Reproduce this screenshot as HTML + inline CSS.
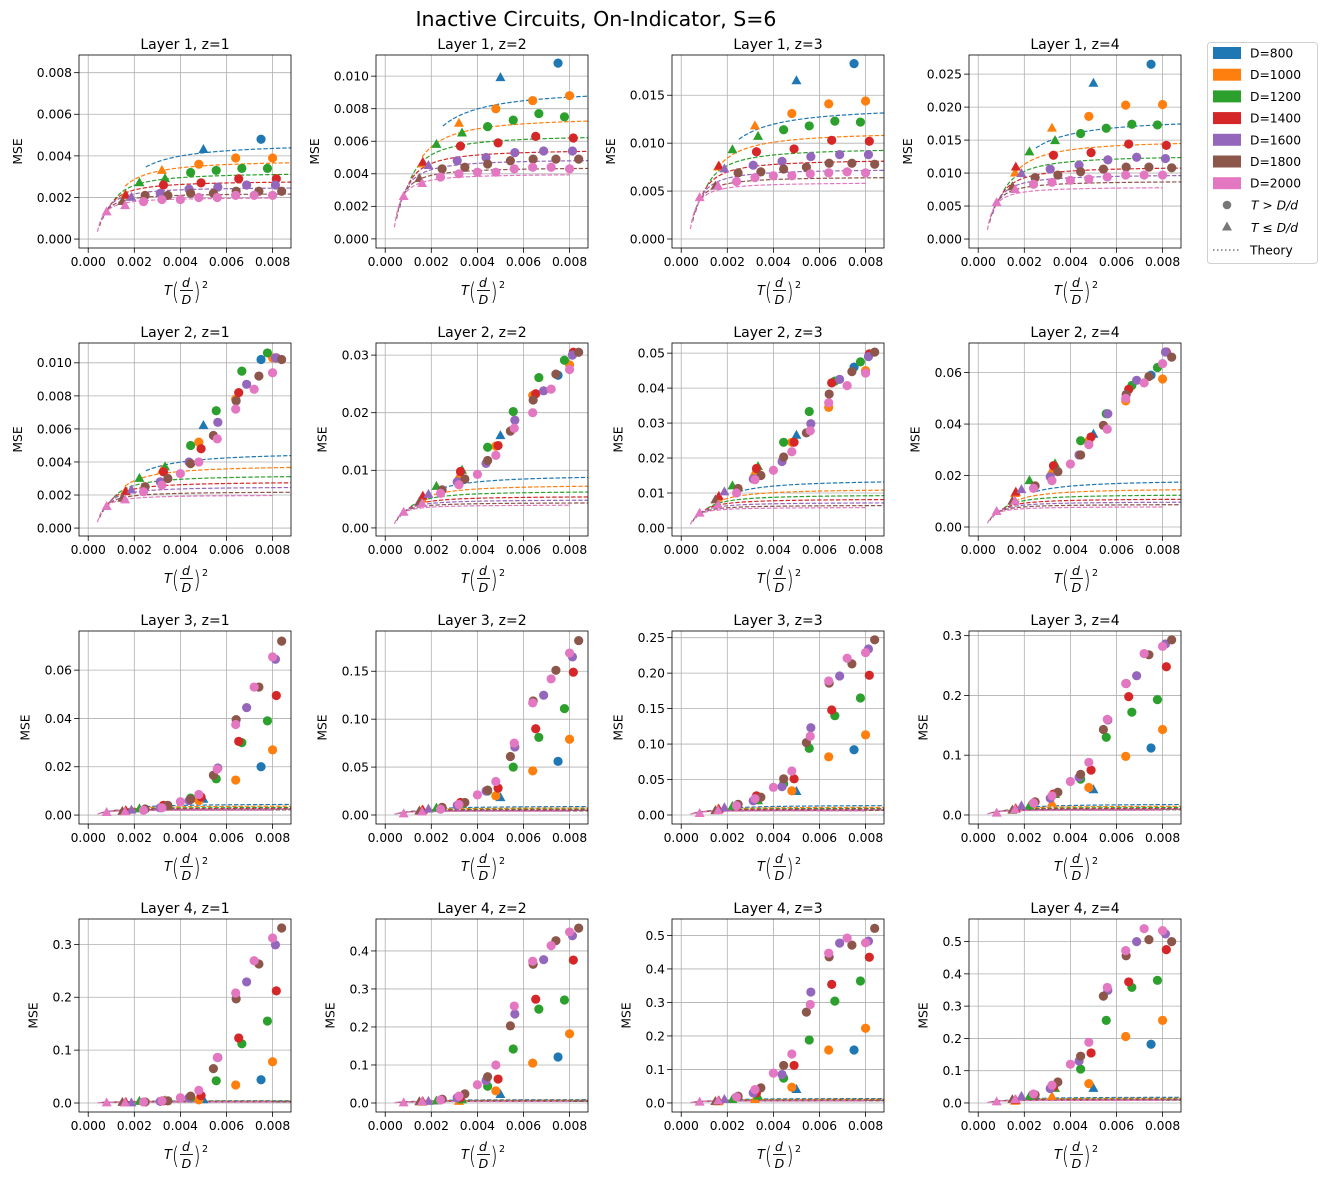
<!DOCTYPE html>
<html><head><meta charset="utf-8"><style>
html,body{margin:0;padding:0;background:#fff;}
svg{display:block;font-family:"DejaVu Sans","Liberation Sans",sans-serif;}
</style></head><body>
<svg id="fig" width="1324" height="1180" viewBox="0 0 1324 1180" xmlns="http://www.w3.org/2000/svg">
<rect x="0" y="0" width="1324" height="1180" fill="#fff"/>
<text x="596" y="26" font-size="20.5" text-anchor="middle" fill="#000">Inactive Circuits, On-Indicator, S=6</text>
</svg>
<script>
// ---------- data ----------
const D_VALUES = [800, 1000, 1200, 1400, 1600, 1800, 2000];
const SERIES_COLORS = ['#1f77b4','#ff7f0e','#2ca02c','#d62728','#9467bd','#8c564b','#e377c2'];
const T_D800 = [200, 300];
const T_D1000 = [100, 200, 300, 400, 500];
const T_D1200 = [200, 300, 400, 500, 600, 700];
const T_D1400 = [200, 400, 600, 800, 1000];
const T_D1600 = [300, 500, 700, 900, 1100, 1300];
const T_D1800 = [300, 500, 700, 900, 1100, 1300, 1500, 1700];
const T_D2000 = [200, 400, 600, 800, 1000, 1200, 1400, 1600, 1800, 2000];
const SMALL_D = 4;
const THEORY_Z1 = [0.0046, 0.0038, 0.0032, 0.0028, 0.0025, 0.0022, 0.0020];
const THEORY_Z2 = [0.0092, 0.0075, 0.0064, 0.0055, 0.0049, 0.0044, 0.0040];
const THEORY_Z3 = [0.0138, 0.0112, 0.0095, 0.0083, 0.0073, 0.0065, 0.0059];
const THEORY_Z4 = [0.0183, 0.0150, 0.0127, 0.0110, 0.0098, 0.0088, 0.0079];
const X_TICKS = [0, 0.002, 0.004, 0.006, 0.008];

const MSE_L1_Z1 = [[0.0043,0.0048],[0.0021,0.0033,0.0036,0.0039,0.0039],[0.0027,0.0029,0.0032,0.0033,0.0034,0.0034],[0.0021,0.0026,0.0027,0.0029,0.0029],[0.0020,0.0022,0.0024,0.0025,0.0026,0.0026],[0.0018,0.0021,0.0021,0.0022,0.0022,0.0023,0.0023,0.0023],[0.0013,0.0016,0.0018,0.0019,0.0019,0.0020,0.0020,0.0021,0.0021,0.0021]];
const MSE_L1_Z2 = [[0.0099,0.0108],[0.0046,0.0071,0.0080,0.0085,0.0088],[0.0058,0.0065,0.0069,0.0073,0.0077,0.0075],[0.0047,0.0057,0.0059,0.0063,0.0062],[0.0045,0.0048,0.0050,0.0053,0.0054,0.0054],[0.0037,0.0043,0.0044,0.0046,0.0048,0.0049,0.0049,0.0049],[0.0026,0.0034,0.0038,0.0040,0.0041,0.0041,0.0043,0.0044,0.0044,0.0043]];
const MSE_L1_Z3 = [[0.0165,0.0183],[0.0075,0.0118,0.0131,0.0141,0.0144],[0.0093,0.0107,0.0114,0.0118,0.0123,0.0122],[0.0076,0.0091,0.0094,0.0103,0.0102],[0.0073,0.0077,0.0081,0.0086,0.0088,0.0088],[0.0055,0.0069,0.0070,0.0073,0.0075,0.0079,0.0079,0.0078],[0.0043,0.0055,0.0060,0.0064,0.0066,0.0066,0.0068,0.0069,0.0070,0.0069]];
const MSE_L1_Z4 = [[0.0236,0.0265],[0.0100,0.0168,0.0186,0.0203,0.0204],[0.0132,0.0149,0.0160,0.0168,0.0174,0.0173],[0.0109,0.0127,0.0131,0.0144,0.0142],[0.0099,0.0106,0.0112,0.0120,0.0124,0.0122],[0.0079,0.0093,0.0097,0.0102,0.0106,0.0109,0.0109,0.0108],[0.0055,0.0075,0.0083,0.0086,0.0089,0.0091,0.0094,0.0097,0.0097,0.0097]];
const MSE_L2_Z1 = [[0.0062,0.0102],[0.0022,0.0035,0.0052,0.0078,0.0103],[0.0030,0.0037,0.0050,0.0071,0.0095,0.0106],[0.0022,0.0034,0.0048,0.0082,0.0103],[0.0023,0.0028,0.0040,0.0064,0.0087,0.0103],[0.0018,0.0025,0.0030,0.0039,0.0056,0.0077,0.0092,0.0102],[0.0013,0.0017,0.0022,0.0026,0.0033,0.0040,0.0054,0.0072,0.0084,0.0094]];
const MSE_L2_Z2 = [[0.0160,0.0265],[0.0050,0.0090,0.0142,0.0230,0.0283],[0.0072,0.0100,0.0140,0.0202,0.0261,0.0291],[0.0055,0.0098,0.0143,0.0233,0.0305],[0.0058,0.0080,0.0112,0.0187,0.0238,0.0300],[0.0045,0.0066,0.0085,0.0117,0.0168,0.0222,0.0267,0.0305],[0.0027,0.0042,0.0060,0.0075,0.0093,0.0126,0.0173,0.0200,0.0241,0.0275]];
const MSE_L2_Z3 = [[0.0265,0.0460],[0.0085,0.0160,0.0245,0.0345,0.0450],[0.0120,0.0175,0.0245,0.0333,0.0420,0.0475],[0.0090,0.0170,0.0245,0.0415,0.0498],[0.0103,0.0140,0.0190,0.0298,0.0425,0.0490],[0.0080,0.0113,0.0150,0.0203,0.0272,0.0383,0.0447,0.0503],[0.0042,0.0065,0.0100,0.0138,0.0165,0.0218,0.0278,0.0358,0.0407,0.0443]];
const MSE_L2_Z4 = [[0.0360,0.0590],[0.0130,0.0220,0.0335,0.0490,0.0575],[0.0180,0.0245,0.0335,0.0440,0.0550,0.0620],[0.0135,0.0238,0.0350,0.0535,0.0680],[0.0145,0.0195,0.0280,0.0440,0.0570,0.0680],[0.0100,0.0160,0.0215,0.0280,0.0395,0.0515,0.0585,0.0660],[0.0060,0.0100,0.0150,0.0180,0.0245,0.0320,0.0380,0.0500,0.0560,0.0635]];
const MSE_L3_Z1 = [[0.0065,0.0200],[0.0015,0.0035,0.0060,0.0145,0.0270],[0.0025,0.0035,0.0070,0.0150,0.0300,0.0390],[0.0018,0.0040,0.0075,0.0305,0.0495],[0.0020,0.0030,0.0060,0.0195,0.0445,0.0645],[0.0015,0.0025,0.0040,0.0065,0.0165,0.0395,0.0530,0.0720],[0.0010,0.0013,0.0020,0.0030,0.0055,0.0085,0.0190,0.0375,0.0530,0.0655]];
const MSE_L3_Z2 = [[0.0180,0.0560],[0.0050,0.0110,0.0200,0.0460,0.0790],[0.0070,0.0110,0.0250,0.0500,0.0810,0.1110],[0.0050,0.0130,0.0280,0.0900,0.1490],[0.0060,0.0100,0.0250,0.0710,0.1250,0.1650],[0.0040,0.0080,0.0130,0.0260,0.0610,0.1190,0.1510,0.1820],[0.0010,0.0030,0.0060,0.0110,0.0210,0.0350,0.0750,0.1170,0.1420,0.1690]];
const MSE_L3_Z3 = [[0.0330,0.0920],[0.0080,0.0200,0.0340,0.0820,0.1130],[0.0120,0.0200,0.0440,0.0940,0.1400,0.1650],[0.0080,0.0270,0.0510,0.1480,0.1970],[0.0100,0.0200,0.0400,0.1230,0.1960,0.2340],[0.0060,0.0150,0.0250,0.0510,0.1020,0.1860,0.2130,0.2470],[0.0020,0.0060,0.0130,0.0230,0.0390,0.0620,0.1110,0.1890,0.2210,0.2290]];
const MSE_L3_Z4 = [[0.0420,0.1120],[0.0100,0.0200,0.0460,0.0980,0.1430],[0.0150,0.0340,0.0600,0.1300,0.1720,0.1930],[0.0100,0.0350,0.0750,0.1980,0.2480],[0.0150,0.0280,0.0630,0.1590,0.2330,0.2860],[0.0080,0.0220,0.0380,0.0680,0.1430,0.2200,0.2680,0.2930],[0.0030,0.0090,0.0200,0.0320,0.0560,0.0880,0.1600,0.2200,0.2700,0.2820]];
const MSE_L4_Z1 = [[0.006,0.044],[0.000,0.003,0.006,0.034,0.078],[0.003,0.004,0.010,0.042,0.112,0.155],[0.001,0.004,0.014,0.123,0.212],[0.000,0.003,0.010,0.086,0.229,0.299],[0.001,0.002,0.004,0.013,0.065,0.197,0.263,0.331],[0.000,0.000,0.002,0.004,0.010,0.024,0.086,0.208,0.269,0.312]];
const MSE_L4_Z2 = [[0.022,0.121],[0.002,0.004,0.032,0.105,0.182],[0.005,0.008,0.044,0.142,0.247,0.271],[0.003,0.014,0.063,0.273,0.376],[0.004,0.014,0.059,0.234,0.377,0.440],[0.003,0.010,0.024,0.069,0.203,0.365,0.427,0.460],[0.000,0.003,0.008,0.018,0.048,0.100,0.255,0.373,0.414,0.450]];
const MSE_L4_Z3 = [[0.040,0.158],[0.003,0.010,0.047,0.158,0.223],[0.010,0.020,0.074,0.188,0.304,0.364],[0.006,0.030,0.112,0.354,0.435],[0.010,0.030,0.085,0.331,0.477,0.483],[0.004,0.020,0.045,0.112,0.271,0.436,0.471,0.521],[0.002,0.006,0.018,0.040,0.089,0.146,0.294,0.447,0.492,0.478]];
const MSE_L4_Z4 = [[0.045,0.182],[0.005,0.020,0.060,0.206,0.256],[0.020,0.045,0.105,0.256,0.358,0.380],[0.008,0.050,0.155,0.375,0.475],[0.020,0.045,0.130,0.349,0.500,0.524],[0.010,0.025,0.065,0.145,0.331,0.456,0.506,0.500],[0.003,0.010,0.028,0.055,0.120,0.188,0.358,0.472,0.540,0.534]];

const Y_MIN = [-0.00043,-0.00056,-0.00094,-0.00136, -0.00048,-0.0014,-0.0023,-0.0035, -0.0037,-0.0094,-0.0127,-0.0151, -0.017,-0.0237,-0.027,-0.028];
const Y_MAX = [0.00885,0.0113,0.0192,0.0279, 0.0112,0.0321,0.0529,0.0715, 0.0762,0.192,0.2594,0.3078, 0.348,0.484,0.549,0.570];
const Y_STEP = [0.002,0.002,0.005,0.005, 0.002,0.01,0.01,0.02, 0.02,0.05,0.05,0.1, 0.1,0.1,0.1,0.1];
const Y_DEC = [3,3,3,3, 3,2,2,2, 2,2,2,1, 1,1,1,1];

// ---------- layout ----------
const T_LISTS = [T_D800,T_D1000,T_D1200,T_D1400,T_D1600,T_D1800,T_D2000];
const THEORY = [THEORY_Z1,THEORY_Z2,THEORY_Z3,THEORY_Z4];
const PANELS = [MSE_L1_Z1,MSE_L1_Z2,MSE_L1_Z3,MSE_L1_Z4,MSE_L2_Z1,MSE_L2_Z2,MSE_L2_Z3,MSE_L2_Z4,MSE_L3_Z1,MSE_L3_Z2,MSE_L3_Z3,MSE_L3_Z4,MSE_L4_Z1,MSE_L4_Z2,MSE_L4_Z3,MSE_L4_Z4];
const COL_L = [79,376,672,969], ROW_T = [55,343,631,919], AW = 212, AH = 193;
const XMIN = -0.0004, XMAX = 0.0088;
const NS = 'http://www.w3.org/2000/svg';
const fig = document.getElementById('fig');
function mk(tag, attrs, parent){const e=document.createElementNS(NS,tag);for(const k in attrs)e.setAttribute(k,attrs[k]);(parent||fig).appendChild(e);return e;}
function txtW(s,fs){let w=0;for(const c of s){w+= (c==='.')?0.318:(c==='-'?0.36:0.636);}return w*fs;}

for(let p=0;p<16;p++){
  const row=Math.floor(p/4), col=p%4, L=COL_L[col], Tp=ROW_T[row];
  const data=PANELS[p], th=THEORY[col];
  const ymin=Y_MIN[p], ymax=Y_MAX[p];
  const xs=v=>L+(v-XMIN)/(XMAX-XMIN)*AW;
  const ys=v=>Tp+AH-(v-ymin)/(ymax-ymin)*AH;
  const g=mk('g',{});
  
  
  const clipId='clip'+p;
  const cp=mk('clipPath',{id:clipId},g); mk('rect',{x:L,y:Tp,width:AW,height:AH},cp);
  const fs=12.3;
  X_TICKS.forEach(v=>{
    const x=xs(v);
    const gl=mk('line',{x1:x,x2:x,y1:Tp,y2:Tp+AH,stroke:'#b0b0b0','stroke-width':0.8},g);
    
    
    mk('line',{x1:x,x2:x,y1:Tp+AH,y2:Tp+AH+4.9,stroke:'#000','stroke-width':0.8},g);
    const t=mk('text',{x:x,y:Tp+AH+18,'font-size':fs,'text-anchor':'middle',fill:'#000'},g);
    t.textContent=v.toFixed(3);
    
    
  });
  const step=Y_STEP[p]; let maxW=0;
  for(let k=Math.ceil(ymin/step-1e-9);k*step<=ymax+1e-12;k++){
    const v=k*step, y=ys(v);
    const gl=mk('line',{x1:L,x2:L+AW,y1:y,y2:y,stroke:'#b0b0b0','stroke-width':0.8},g);
    
    
    mk('line',{x1:L-4.9,x2:L,y1:y,y2:y,stroke:'#000','stroke-width':0.8},g);
    const s=v.toFixed(Y_DEC[p]);
    const t=mk('text',{x:L-7,y:y+4.4,'font-size':fs,'text-anchor':'end',fill:'#000'},g);
    t.textContent=s;
    
    
    maxW=Math.max(maxW,txtW(s,fs));
  }
  const cg=mk('g',{'clip-path':'url(#'+clipId+')'},g);
  for(let i=0;i<7;i++){
    const D=D_VALUES[i]; let pts=[];
    for(let T=100;T<=2000;T+=10){
      const x=SMALL_D*SMALL_D*T/(D*D); if(x>XMAX+0.0002)break;
      const u=T/D; const y=th[i]*(1-0.33*Math.pow(10*u,-1.32));
      pts.push(xs(x).toFixed(2)+','+ys(y).toFixed(2));
    }
    const pl=mk('polyline',{points:pts.join(' '),fill:'none',stroke:SERIES_COLORS[i],'stroke-width':1.2,'stroke-dasharray':'4.4,1.9'},cg);
    
    
  }
  for(let i=0;i<7;i++){
    const D=D_VALUES[i], Ts=T_LISTS[i], vals=data[i];
    for(let j=0;j<Ts.length&&j<vals.length;j++){
      const T=Ts[j], x=xs(SMALL_D*SMALL_D*T/(D*D)), y=ys(vals[j]);
      let m;
      if(T<=D/SMALL_D){
        m=mk('polygon',{points:[x,y-5.6,x+5,y+3.4,x-5,y+3.4].join(' '),fill:SERIES_COLORS[i]},cg);
        
      } else {
        m=mk('circle',{cx:x,cy:y,r:4.6,fill:SERIES_COLORS[i]},cg);
        
      }
      
    }
  }
  const fr=mk('rect',{x:L,y:Tp,width:AW,height:AH,fill:'none',stroke:'#000','stroke-width':0.8},g);
  
  
  const ti=mk('text',{x:L+AW/2,y:Tp-6,'font-size':14,'text-anchor':'middle',fill:'#000'},g);
  ti.textContent='Layer '+(row+1)+', z='+(col+1);
  
  
  const lx=L-7-maxW-15;
  const yl=mk('text',{x:lx,y:Tp+AH/2,'font-size':12.3,'text-anchor':'middle',fill:'#000',transform:'rotate(-90 '+lx+' '+(Tp+AH/2)+')'},g);
  yl.textContent='MSE';
  
  
  const cx=L+AW/2, b=Tp+AH;
  const xg=mk('g',{},g);
  
  
  mk('text',{x:cx-17,y:b+47,'font-size':13,'font-style':'italic','text-anchor':'middle'},xg).textContent='T';
  mk('text',{x:cx-9.5,y:b+52,'font-size':24,'font-weight':'200','text-anchor':'middle',transform:'scale(0.75,1) translate('+((cx-9.5)/0.75-(cx-9.5))+',0)'},xg).textContent='(';
  mk('text',{x:cx+1,y:b+39,'font-size':12.5,'font-style':'italic','text-anchor':'middle'},xg).textContent='d';
  mk('line',{x1:cx-5,x2:cx+8,y1:b+42.5,y2:b+42.5,stroke:'#000','stroke-width':0.9},xg);
  mk('text',{x:cx+1.5,y:b+56,'font-size':12.5,'font-style':'italic','text-anchor':'middle'},xg).textContent='D';
  mk('text',{x:cx+12,y:b+52,'font-size':24,'font-weight':'200','text-anchor':'middle',transform:'scale(0.75,1) translate('+((cx+12)/0.75-(cx+12))+',0)'},xg).textContent=')';
  mk('text',{x:cx+20,y:b+40,'font-size':9.5,'text-anchor':'middle'},xg).textContent='2';
}

// ---------- legend ----------
const lg=mk('g',{});


mk('rect',{x:1207.5,y:42.5,width:110,height:221,rx:3,fill:'#fff',stroke:'#d0d0d0','stroke-width':1},lg);
for(let i=0;i<7;i++){
  const y=53+i*21.7;
  const e=mk('g',{},lg);
  
  
  mk('rect',{x:1213,y:y-6,width:28,height:12,fill:SERIES_COLORS[i]},e);
  mk('text',{x:1250,y:y+4.5,'font-size':12.3,fill:'#000'},e).textContent='D='+D_VALUES[i];
}
const e1=mk('g',{},lg);


mk('circle',{cx:1227,cy:205,r:4.3,fill:'#777'},e1);
mk('text',{x:1251,y:209.5,'font-size':12.3,'font-style':'italic'},e1).textContent='T > D/d';
const e2=mk('g',{},lg);


mk('polygon',{points:'1227,221.5 1232,230.5 1222,230.5',fill:'#777'},e2);
mk('text',{x:1251,y:232,'font-size':12.3,'font-style':'italic'},e2).textContent='T ≤ D/d';
const e3=mk('g',{},lg);


mk('line',{x1:1213,x2:1241,y1:250,y2:250,stroke:'#777','stroke-width':1.5,'stroke-dasharray':'1.5,2.5'},e3);
mk('text',{x:1250,y:254.5,'font-size':12.3},e3).textContent='Theory';
</script>
</body></html>
